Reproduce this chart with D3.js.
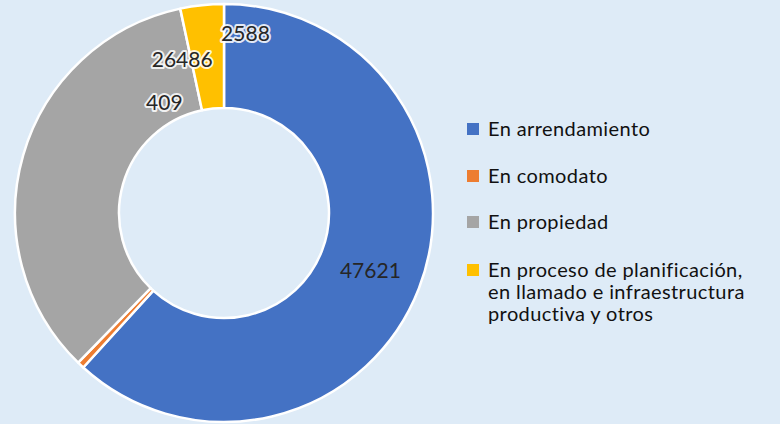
<!DOCTYPE html>
<html>
<head>
<meta charset="utf-8">
<script src="https://cdn.jsdelivr.net/npm/d3@7/dist/d3.min.js"></script>
<style>
  html, body { margin: 0; padding: 0; background: #deebf7; }
  svg { display: block; }
</style>
</head>
<body>
<svg id="chart" width="780" height="424"></svg>
<script>
// Data
const categories = [
  "En arrendamiento",
  "En comodato",
  "En propiedad",
  "En proceso de planificación, en llamado e infraestructura productiva y otros"
];
const values = [47621, 409, 26486, 2588];
const colors = ["#4472c4", "#ed7d31", "#a5a5a5", "#ffc000"];
const legendLines = [
  ["En arrendamiento"],
  ["En comodato"],
  ["En propiedad"],
  ["En proceso de planificación,", "en llamado e infraestructura", "productiva y otros"]
];

// Layout (label offsets from arc centroid, as manually placed in the original)
const labelOffsets = [[0, 0], [48, -226], [109, -111], [38, -24]];
const W = 780, H = 424;
const cx = 224, cy = 213, rOuter = 209, rInner = 105;

const svg = d3.select("#chart");
svg.append("rect").attr("width", W).attr("height", H).attr("fill", "#deebf7");

const pie = d3.pie().sort(null).value(d => d)(values);
const arc = d3.arc().innerRadius(rInner).outerRadius(rOuter);

const g = svg.append("g").attr("transform", `translate(${cx},${cy})`);
g.selectAll("path.slice")
  .data(pie)
  .join("path")
  .attr("class", "slice")
  .attr("d", arc)
  .attr("fill", (d, i) => colors[i])
  .attr("stroke", "#ffffff")
  .attr("stroke-width", 2.5)
  .attr("stroke-linejoin", "round");

g.selectAll("text.lbl")
  .data(pie)
  .join("text")
  .attr("class", "lbl")
  .attr("x", (d, i) => arc.centroid(d)[0] + labelOffsets[i][0])
  .attr("y", (d, i) => arc.centroid(d)[1] + labelOffsets[i][1])
  .attr("text-anchor", "middle")
  .attr("dominant-baseline", "central")
  .attr("font-family", "Lato, 'Open Sans', sans-serif")
  .attr("font-size", 21)
  .attr("fill", "#262626")
  .attr("stroke", (d, i) => i === 0 ? "none" : "rgba(255,255,255,0.85)")
  .attr("stroke-width", 4)
  .attr("stroke-linejoin", "round")
  .attr("paint-order", "stroke")
  .text(d => d.data);

// Legend
const legendX = 467, textX = 488;
const baselines = [136, 183, 229, 277];
const lineH = 22;
const leg = svg.append("g");
legendLines.forEach((lines, i) => {
  leg.append("rect")
    .attr("x", legendX)
    .attr("y", baselines[i] - 13)
    .attr("width", 12)
    .attr("height", 12)
    .attr("fill", colors[i]);
  const t = leg.append("text")
    .attr("font-family", "Lato, 'Open Sans', sans-serif")
    .attr("font-size", 20)
    .attr("letter-spacing", 0.4)
    .attr("fill", "#111111");
  lines.forEach((ln, j) => {
    t.append("tspan").attr("x", textX).attr("y", baselines[i] + j * lineH).text(ln);
  });
});
</script>
</body>
</html>
